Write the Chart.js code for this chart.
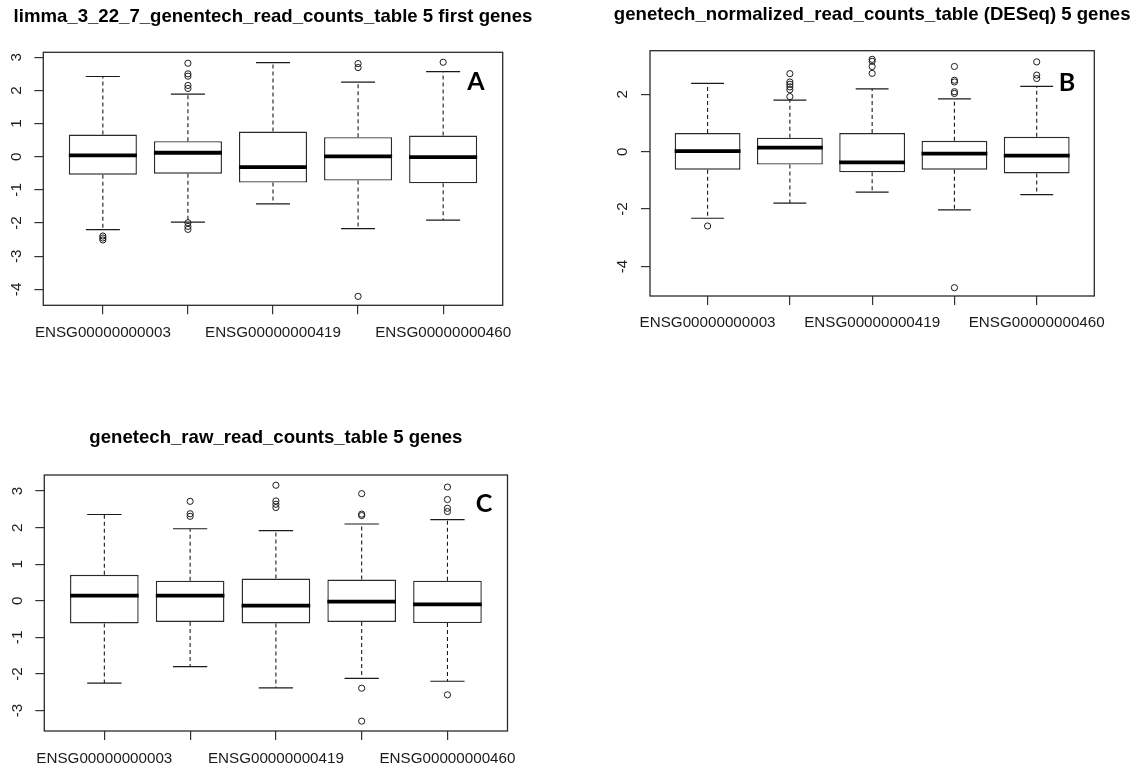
<!DOCTYPE html>
<html>
<head>
<meta charset="utf-8">
<script src="https://cdn.jsdelivr.net/npm/chart.js@4.4.1/dist/chart.umd.min.js"></script>
<style>
  html, body { margin: 0; padding: 0; background: #fff; width: 1133px; height: 769px; overflow: hidden; }
  canvas { position: absolute; }
</style>
</head>
<body>
<canvas id="limma" width="566" height="384" style="left:0px;top:0px"></canvas>
<canvas id="deseq" width="567" height="384" style="left:566px;top:0px"></canvas>
<canvas id="raw" width="566" height="385" style="left:0px;top:384px"></canvas>
<script>
// Gene axis: five boxes, every other name printed
const genePositions = [1, 2, 3, 4, 5];
const geneTicks = ['ENSG00000000003', '', 'ENSG00000000419', '', 'ENSG00000000460'];

// limma_3_22_7 genentech read counts
const limmaLow   = [-2.20, -1.97, -1.42, -2.17, -1.91];
const limmaQ1    = [-0.54, -0.51, -0.78, -0.72, -0.80];
const limmaMed   = [ 0.04,  0.12, -0.31,  0.01, -0.01];
const limmaQ3    = [ 0.67,  0.47,  0.76,  0.59,  0.64];
const limmaHigh  = [ 2.42,  1.89,  2.84,  2.25,  2.57];
const limmaOut   = [[-2.39, -2.45, -2.51], [2.82, 2.50, 2.43, 2.15, 2.06, -1.99, -2.10, -2.19], [], [2.81, 2.69, -4.21], [2.85]];
const limmaYTicks = [-4, -3, -2, -1, 0, 1, 2, 3];
const limmaYRange = [-4.48, 3.15];

// DESeq normalized read counts
const deseqLow   = [-2.32, -1.79, -1.41, -2.03, -1.50];
const deseqQ1    = [-0.63, -0.45, -0.72, -0.63, -0.76];
const deseqMed   = [ 0.02,  0.14, -0.37, -0.07, -0.14];
const deseqQ3    = [ 0.65,  0.49,  0.65,  0.38,  0.52];
const deseqHigh  = [ 2.38,  1.80,  2.19,  1.84,  2.28];
const deseqOut   = [[-2.59], [2.72, 2.43, 2.35, 2.26, 2.16, 1.92], [3.22, 3.15, 2.97, 2.73], [2.97, 2.49, 2.43, 2.09, 2.03, -4.74], [3.13, 2.67, 2.55]];
const deseqYTicks = [-4, -2, 0, 2];
const deseqYRange = [-5.03, 3.52];

// raw read counts
const rawLow     = [-2.25, -1.80, -2.38, -2.12, -2.20];
const rawQ1      = [-0.62, -0.58, -0.62, -0.58, -0.61];
const rawMed     = [ 0.14,  0.14, -0.13, -0.02, -0.10];
const rawQ3      = [ 0.71,  0.55,  0.61,  0.58,  0.55];
const rawHigh    = [ 2.36,  1.97,  1.92,  2.10,  2.22];
const rawOut     = [[], [2.72, 2.38, 2.31], [3.16, 2.73, 2.64, 2.55], [2.93, 2.37, 2.33, -2.39, -3.29], [3.11, 2.77, 2.53, 2.44, -2.57]];
const rawYTicks  = [-3, -2, -1, 0, 1, 2, 3];
const rawYRange  = [-3.56, 3.44];

const INK = '#1b1b1b';
const TICK_FONT = { family: "'Liberation Sans', Arial, sans-serif", size: 15.2 };

// Plot frame, main title centred over the plot, and the bold panel letter
const panelText = {
  id: 'panelText',
  afterDatasetsDraw(chart, args, opts) {
    const { ctx, chartArea: a } = chart;
    ctx.save();
    ctx.strokeStyle = '#2a2a2a';
    ctx.lineWidth = 1.3;
    ctx.strokeRect(a.left, a.top, a.right - a.left, a.bottom - a.top);

    ctx.fillStyle = '#000';
    ctx.textAlign = 'center';
    ctx.textBaseline = 'middle';
    ctx.font = "bold 18.6px 'Liberation Sans', Arial, sans-serif";
    ctx.fillText(opts.title, (a.left + a.right) / 2, opts.titleY);

    ctx.font = "bold 25px Lato, 'Open Sans', sans-serif";
    ctx.fillText(opts.tag, a.right - opts.dx, a.top + opts.dy);
    ctx.restore();
  }
};

function boxDatasets(low, q1, med, q3, high, outliers) {
  const boxes = [], whiskers = [], staples = [], medians = [], points = [];
  genePositions.forEach((x, i) => {
    boxes.push({ x, y: [q1[i], q3[i]] });
    whiskers.push({ x, y: q3[i] }, { x, y: high[i] }, { x, y: null },
                  { x, y: q1[i] }, { x, y: low[i] }, { x, y: null });
    staples.push({ x: x - 0.2, y: high[i] }, { x: x + 0.2, y: high[i] }, { x, y: null },
                 { x: x - 0.2, y: low[i] }, { x: x + 0.2, y: low[i] }, { x, y: null });
    medians.push({ x: x - 0.4, y: med[i] }, { x: x + 0.4, y: med[i] }, { x, y: null });
    outliers[i].forEach(v => points.push({ x, y: v }));
  });
  const lineBase = { type: 'line', pointRadius: 0, spanGaps: false, borderColor: INK, tension: 0, fill: false };
  return [
    { type: 'bar', data: boxes, backgroundColor: '#ffffff', borderColor: '#2a2a2a', borderWidth: 1.4,
      borderSkipped: false, barPercentage: 0.8, categoryPercentage: 1.0, order: 4 },
    Object.assign({}, lineBase, { data: whiskers, borderWidth: 1.1, borderDash: [4, 3], order: 3 }),
    Object.assign({}, lineBase, { data: staples, borderWidth: 1.2, order: 3 }),
    Object.assign({}, lineBase, { data: medians, borderWidth: 3.8, borderCapStyle: 'butt', borderColor: '#000', order: 1 }),
    { type: 'scatter', data: points, pointStyle: 'circle', pointRadius: 3.1, pointBorderWidth: 1,
      pointBorderColor: INK, pointBackgroundColor: 'rgba(0,0,0,0)', order: 0 }
  ];
}

function drawPanel(canvasId, p) {
  new Chart(document.getElementById(canvasId), {
    type: 'bar',
    data: { datasets: boxDatasets(p.low, p.q1, p.med, p.q3, p.high, p.out) },
    plugins: [panelText],
    options: {
      responsive: false,
      animation: false,
      events: [],
      layout: { padding: p.padding },
      plugins: {
        legend: { display: false },
        tooltip: { enabled: false },
        title: { display: false },
        panelText: p.text
      },
      scales: {
        x: {
          type: 'linear', min: 0.3, max: 5.7, offset: false,
          afterBuildTicks: s => { s.ticks = genePositions.map(v => ({ value: v })); },
          afterFit: s => { s.height = p.xHeight; s.paddingLeft = 0; s.paddingRight = 0; },
          grid: { display: true, offset: false, drawOnChartArea: false, drawTicks: true, tickLength: 9, color: '#333', lineWidth: 1.2 },
          border: { display: false },
          ticks: { autoSkip: false, maxRotation: 0, minRotation: 0, padding: p.xPad, color: INK, font: TICK_FONT,
                   callback: (v, i) => geneTicks[i] }
        },
        y: {
          type: 'linear', min: p.yRange[0], max: p.yRange[1],
          afterBuildTicks: s => { s.ticks = p.yTicks.map(v => ({ value: v })); },
          afterFit: s => { s.width = 40; },
          grid: { display: true, drawOnChartArea: false, drawTicks: true, tickLength: 9, color: '#333', lineWidth: 1.2 },
          border: { display: false },
          ticks: { minRotation: 90, maxRotation: 90, crossAlign: 'center', padding: 11, color: INK, font: TICK_FONT }
        }
      }
    }
  });
}

drawPanel('limma', {
  low: limmaLow, q1: limmaQ1, med: limmaMed, q3: limmaQ3, high: limmaHigh, out: limmaOut,
  yTicks: limmaYTicks, yRange: limmaYRange,
  padding: { left: 3.3, top: 52.3, right: 63.3, bottom: 30.7 },
  xHeight: 48,
  xPad: 9.6,
  text: { title: 'limma_3_22_7_genentech_read_counts_table 5 first genes', titleY: 16.5, tag: 'A', dx: 26.7, dy: 29.4 }
});

drawPanel('deseq', {
  low: deseqLow, q1: deseqQ1, med: deseqMed, q3: deseqQ3, high: deseqHigh, out: deseqOut,
  yTicks: deseqYTicks, yRange: deseqYRange,
  padding: { left: 44, top: 50.7, right: 38.7, bottom: 40 },
  xHeight: 48,
  xPad: 8.9,
  text: { title: 'genetech_normalized_read_counts_table (DESeq) 5 genes', titleY: 15, tag: 'B', dx: 27.3, dy: 32 }
});

drawPanel('raw', {
  low: rawLow, q1: rawQ1, med: rawMed, q3: rawQ3, high: rawHigh, out: rawOut,
  yTicks: rawYTicks, yRange: rawYRange,
  padding: { left: 4.3, top: 91, right: 58.5, bottom: 0 },
  xHeight: 38,
  xPad: 10.1,
  text: { title: 'genetech_raw_read_counts_table 5 genes', titleY: 54.3, tag: 'C', dx: 23.5, dy: 29 }
});
</script>
</body>
</html>
